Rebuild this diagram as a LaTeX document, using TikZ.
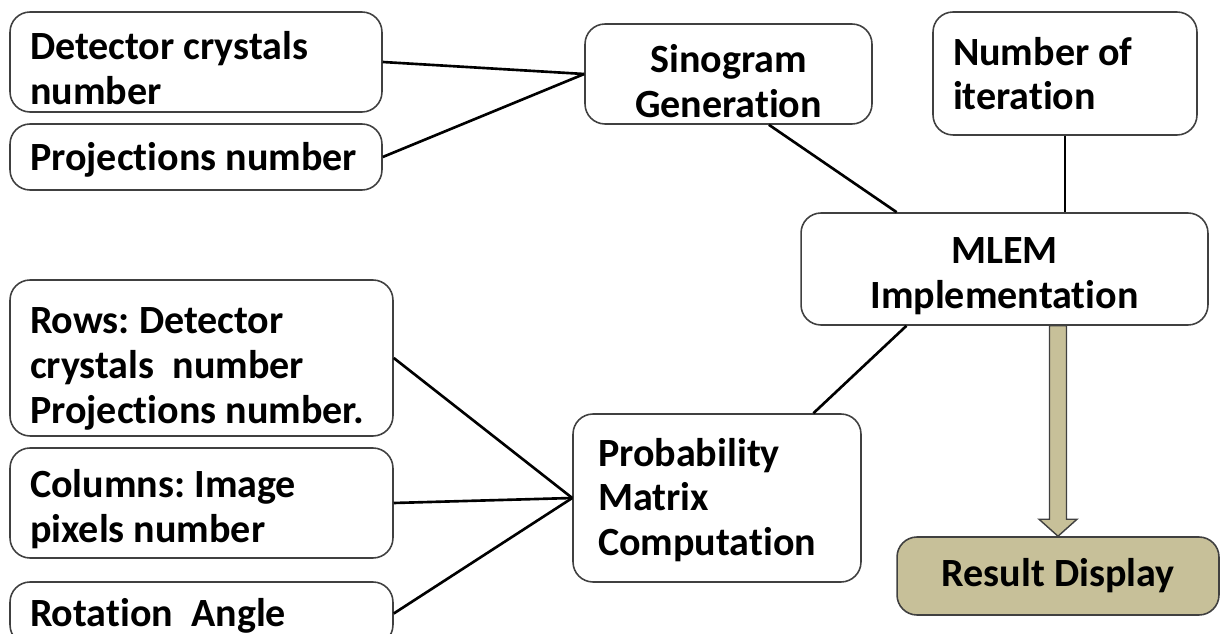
\documentclass[tikz,border=0pt]{standalone}
\usepackage{fontspec}
\setmainfont{Carlito}[Ligatures=NoCommon]
\usepackage{xcolor}
\usepackage{tikz}
\usetikzlibrary{calc}
\frenchspacing

\definecolor{tan}{RGB}{199,192,153}
\definecolor{edge}{RGB}{64,64,64}
\newcommand{\topstrut}[1]{\rule{0pt}{\dimexpr\fontcharht\font`l+#1\relax}}
\newcommand{\boxfont}{\fontsize{22.8}{25.5}\selectfont\bfseries\hyphenpenalty=10000\relax}

\begin{document}
\begin{tikzpicture}[
    x=0.02cm, y=-0.02cm,
    box/.style={draw=edge, line width=0.9pt, fill=white, rounded corners=0.4cm, inner ysep=0pt, font=\boxfont},
    lbox/.style={box, align=flush left, inner xsep=0.4cm, text width=#1},
    cbox/.style={box, align=flush center, inner xsep=0.2cm, text width=#1},
    drop/.style={execute at begin node={\topstrut{#1}}},
    link/.style={line width=1.5pt, black},
    fat/.style={draw=edge, line width=0.8pt, fill=tan, line join=miter}
]
    \useasboundingbox (0,0) rectangle (1220,634);
    \clip (0,0) rectangle (1220,634);

    % Inputs
    \node[lbox=6.64cm, drop=0.24cm, minimum width=7.44cm, minimum height=2cm]    (det)  at (196,62)    {Detector crystals\\number};
    \node[lbox=6.64cm, drop=0.12cm, minimum width=7.44cm, minimum height=1.32cm] (proj) at (196,157)   {Projections number};
    \node[lbox=6.86cm, drop=0.4cm,  minimum width=7.66cm, minimum height=3.12cm] (rows) at (201.5,358) {Rows: Detector\\crystals\ \ number\\Projections number.};
    \node[lbox=6.86cm, drop=0.24cm, minimum width=7.66cm, minimum height=2.2cm]  (cols) at (201.5,503) {Columns: Image\\pixels number};
    \node[lbox=6.86cm, drop=0.08cm, minimum width=7.66cm, minimum height=1.26cm] (rot)  at (201.5,613.5) {Rotation\ \ Angle};
    \node[lbox=4.48cm, drop=0pt, minimum width=5.28cm, minimum height=2.46cm] (iter) at (1065,73.5) {Number of\\iteration};

    % Processing
    \node[cbox=5.34cm, drop=0.28cm, minimum width=5.74cm, minimum height=2cm]    (sino) at (728.5,74) {Sinogram\\Generation};
    \node[cbox=7.74cm, drop=0.24cm, minimum width=8.14cm, minimum height=2.24cm] (mlem) at (1004.5,269) {MLEM\\Implementation};
    \node[box, align=flush left, drop=0.08cm, inner xsep=0.5cm, text width=4.76cm, minimum width=5.76cm, minimum height=3.36cm] (prob) at (717,498) {Probability\\Matrix\\Computation};

    % Inputs -> Sinogram
    \draw[link] (det.east) -- (sino.west);
    \draw[link] (proj.east) -- (sino.west);

    % Inputs -> Probability matrix
    \draw[link] (rows.east) -- (prob.west);
    \draw[link] (cols.east) -- (prob.west);
    \draw[link] (rot.east) -- (prob.west);

    % Into MLEM
    \draw[link] ($(sino.south west)!0.64!(sino.south east)$) -- ($(mlem.north west)!0.236!(mlem.north east)$);
    \draw[link] (iter.south) -- (iter.south |- mlem.north);
    \draw[link] ($(mlem.south west)!0.26!(mlem.south east)$) -- ($(prob.north west)!0.833!(prob.north east)$);

    % Output
    \node[cbox=6.04cm, drop=0pt, fill=tan, minimum width=6.44cm, minimum height=1.56cm] (res) at (1058,576) {Result Display};
    \coordinate (top) at (res.north |- mlem.south);
    \draw[fat] ($(top)+(-8.5,0)$) -- ($(res.north)+(-8.5,-17)$) -- ++(-10.5,0) -- (res.north)
        -- ($(res.north)+(19,-17)$) -- ++(-10.5,0) -- ($(top)+(8.5,0)$) -- cycle;
\end{tikzpicture}
\end{document}
